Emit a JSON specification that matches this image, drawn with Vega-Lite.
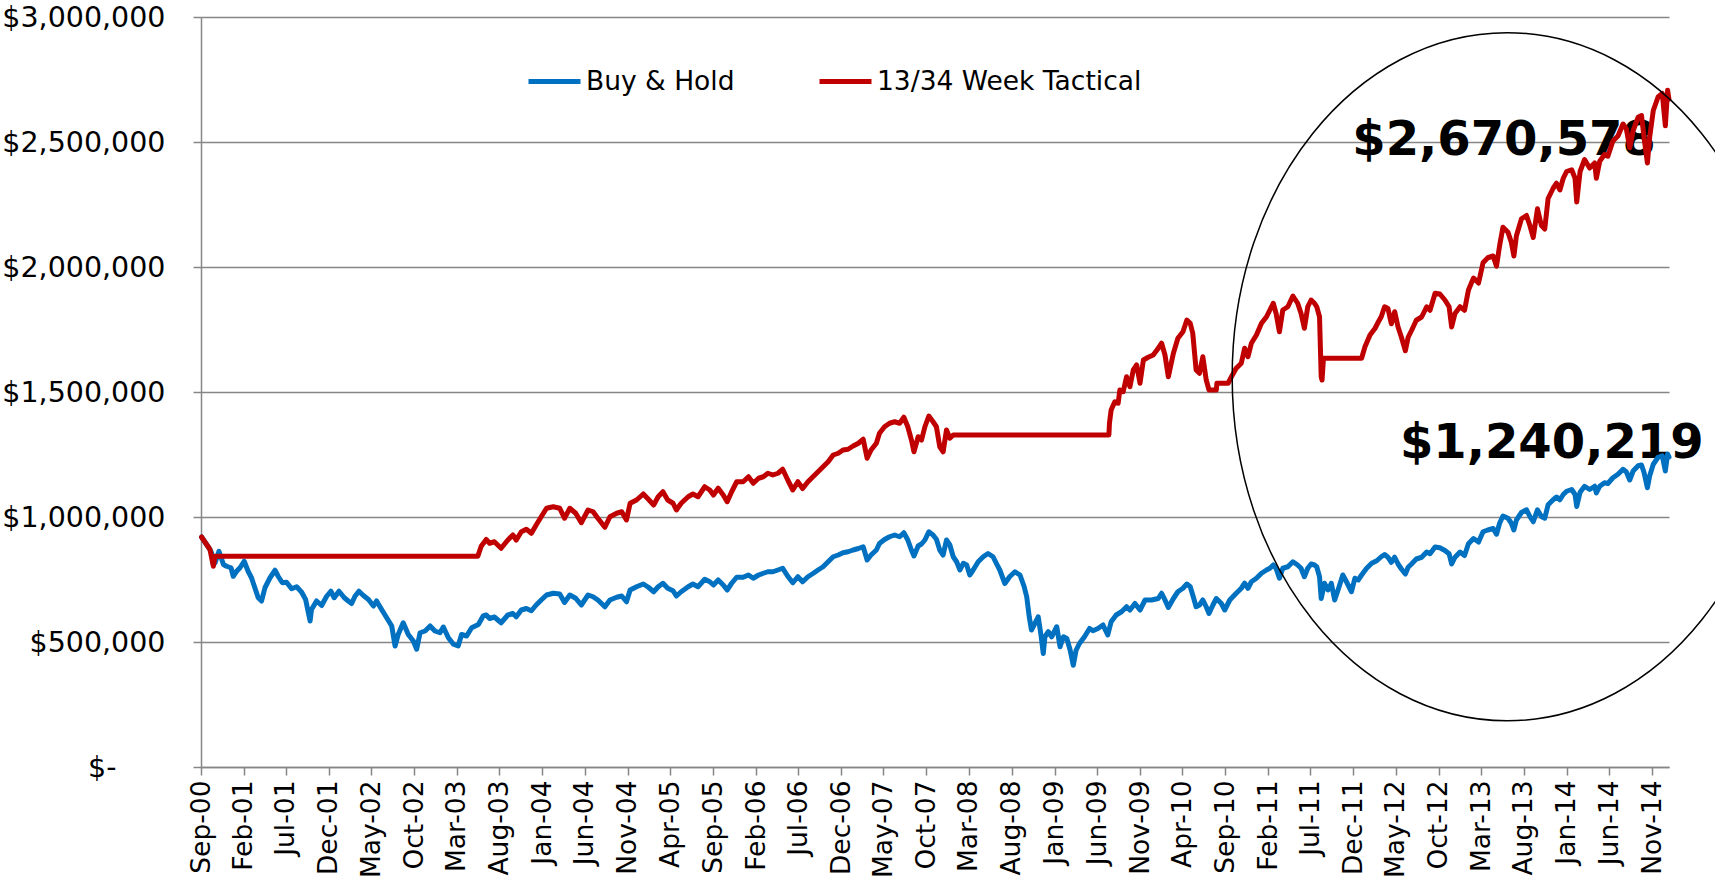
{
"$schema": "https://vega.github.io/schema/vega-lite/v6.json",
"width": 1468, "height": 750,
"autosize": {"type": "none"},
"padding": {"left": 201, "top": 17, "right": 46, "bottom": 119},
"background": "white",
"config": {"view": {"stroke": null}, "font": "DejaVu Sans"},
"datasets": {
"notes": [
{"date": "2013-05-22", "value": 2450000, "label": "$2,670,578"},
{"date": "2013-11-08", "value": 1235800, "label": "$1,240,219"}
],
"ring": [{"date": "2013-06-02", "value": 1561000}],
"series": [
{"date":"2000-09-03","series":"Buy & Hold","value":920000},
{"date":"2000-09-21","series":"Buy & Hold","value":890000},
{"date":"2000-10-03","series":"Buy & Hold","value":870000},
{"date":"2000-10-09","series":"Buy & Hold","value":856000},
{"date":"2000-10-15","series":"Buy & Hold","value":810000},
{"date":"2000-10-21","series":"Buy & Hold","value":816000},
{"date":"2000-11-04","series":"Buy & Hold","value":863000},
{"date":"2000-11-20","series":"Buy & Hold","value":810000},
{"date":"2000-12-01","series":"Buy & Hold","value":803000},
{"date":"2000-12-17","series":"Buy & Hold","value":797000},
{"date":"2000-12-25","series":"Buy & Hold","value":763000},
{"date":"2001-01-06","series":"Buy & Hold","value":783000},
{"date":"2001-01-18","series":"Buy & Hold","value":797000},
{"date":"2001-02-02","series":"Buy & Hold","value":823000},
{"date":"2001-02-16","series":"Buy & Hold","value":783000},
{"date":"2001-02-28","series":"Buy & Hold","value":757000},
{"date":"2001-03-12","series":"Buy & Hold","value":717000},
{"date":"2001-03-24","series":"Buy & Hold","value":677000},
{"date":"2001-04-05","series":"Buy & Hold","value":664000},
{"date":"2001-04-17","series":"Buy & Hold","value":717000},
{"date":"2001-05-05","series":"Buy & Hold","value":757000},
{"date":"2001-05-23","series":"Buy & Hold","value":787000},
{"date":"2001-06-03","series":"Buy & Hold","value":763000},
{"date":"2001-06-18","series":"Buy & Hold","value":737000},
{"date":"2001-07-03","series":"Buy & Hold","value":739000},
{"date":"2001-07-21","series":"Buy & Hold","value":713000},
{"date":"2001-08-08","series":"Buy & Hold","value":721000},
{"date":"2001-08-26","series":"Buy & Hold","value":699000},
{"date":"2001-09-09","series":"Buy & Hold","value":670000},
{"date":"2001-09-25","series":"Buy & Hold","value":584000},
{"date":"2001-09-30","series":"Buy & Hold","value":630000},
{"date":"2001-10-18","series":"Buy & Hold","value":664000},
{"date":"2001-11-05","series":"Buy & Hold","value":646000},
{"date":"2001-11-23","series":"Buy & Hold","value":683000},
{"date":"2001-12-08","series":"Buy & Hold","value":703000},
{"date":"2001-12-20","series":"Buy & Hold","value":677000},
{"date":"2002-01-06","series":"Buy & Hold","value":703000},
{"date":"2002-01-25","series":"Buy & Hold","value":677000},
{"date":"2002-02-08","series":"Buy & Hold","value":664000},
{"date":"2002-02-20","series":"Buy & Hold","value":654000},
{"date":"2002-03-04","series":"Buy & Hold","value":683000},
{"date":"2002-03-18","series":"Buy & Hold","value":703000},
{"date":"2002-04-03","series":"Buy & Hold","value":686000},
{"date":"2002-04-21","series":"Buy & Hold","value":670000},
{"date":"2002-05-09","series":"Buy & Hold","value":644000},
{"date":"2002-05-20","series":"Buy & Hold","value":664000},
{"date":"2002-06-07","series":"Buy & Hold","value":630000},
{"date":"2002-06-25","series":"Buy & Hold","value":597000},
{"date":"2002-07-13","series":"Buy & Hold","value":564000},
{"date":"2002-07-25","series":"Buy & Hold","value":484000},
{"date":"2002-08-05","series":"Buy & Hold","value":530000},
{"date":"2002-08-23","series":"Buy & Hold","value":577000},
{"date":"2002-09-10","series":"Buy & Hold","value":530000},
{"date":"2002-09-28","series":"Buy & Hold","value":504000},
{"date":"2002-10-10","series":"Buy & Hold","value":471000},
{"date":"2002-10-22","series":"Buy & Hold","value":537000},
{"date":"2002-11-09","series":"Buy & Hold","value":544000},
{"date":"2002-11-27","series":"Buy & Hold","value":564000},
{"date":"2002-12-14","series":"Buy & Hold","value":544000},
{"date":"2003-01-01","series":"Buy & Hold","value":537000},
{"date":"2003-01-13","series":"Buy & Hold","value":560000},
{"date":"2003-01-31","series":"Buy & Hold","value":517000},
{"date":"2003-02-18","series":"Buy & Hold","value":491000},
{"date":"2003-03-07","series":"Buy & Hold","value":484000},
{"date":"2003-03-19","series":"Buy & Hold","value":530000},
{"date":"2003-04-06","series":"Buy & Hold","value":524000},
{"date":"2003-04-24","series":"Buy & Hold","value":557000},
{"date":"2003-05-18","series":"Buy & Hold","value":570000},
{"date":"2003-06-04","series":"Buy & Hold","value":604000},
{"date":"2003-06-15","series":"Buy & Hold","value":608000},
{"date":"2003-06-27","series":"Buy & Hold","value":594000},
{"date":"2003-07-14","series":"Buy & Hold","value":600000},
{"date":"2003-08-07","series":"Buy & Hold","value":577000},
{"date":"2003-08-31","series":"Buy & Hold","value":608000},
{"date":"2003-09-18","series":"Buy & Hold","value":614000},
{"date":"2003-09-30","series":"Buy & Hold","value":601000},
{"date":"2003-10-18","series":"Buy & Hold","value":628000},
{"date":"2003-11-05","series":"Buy & Hold","value":634000},
{"date":"2003-11-23","series":"Buy & Hold","value":625000},
{"date":"2003-12-10","series":"Buy & Hold","value":648000},
{"date":"2003-12-28","series":"Buy & Hold","value":668000},
{"date":"2004-01-16","series":"Buy & Hold","value":688000},
{"date":"2004-02-09","series":"Buy & Hold","value":695000},
{"date":"2004-03-03","series":"Buy & Hold","value":692000},
{"date":"2004-03-20","series":"Buy & Hold","value":658000},
{"date":"2004-04-08","series":"Buy & Hold","value":688000},
{"date":"2004-04-29","series":"Buy & Hold","value":675000},
{"date":"2004-05-19","series":"Buy & Hold","value":648000},
{"date":"2004-06-12","series":"Buy & Hold","value":688000},
{"date":"2004-06-30","series":"Buy & Hold","value":681000},
{"date":"2004-07-17","series":"Buy & Hold","value":668000},
{"date":"2004-08-11","series":"Buy & Hold","value":641000},
{"date":"2004-08-29","series":"Buy & Hold","value":668000},
{"date":"2004-09-22","series":"Buy & Hold","value":679000},
{"date":"2004-10-10","series":"Buy & Hold","value":684000},
{"date":"2004-10-27","series":"Buy & Hold","value":661000},
{"date":"2004-11-09","series":"Buy & Hold","value":708000},
{"date":"2004-12-02","series":"Buy & Hold","value":721000},
{"date":"2004-12-26","series":"Buy & Hold","value":732000},
{"date":"2005-01-13","series":"Buy & Hold","value":719000},
{"date":"2005-02-01","series":"Buy & Hold","value":701000},
{"date":"2005-02-17","series":"Buy & Hold","value":721000},
{"date":"2005-03-06","series":"Buy & Hold","value":735000},
{"date":"2005-03-23","series":"Buy & Hold","value":715000},
{"date":"2005-04-11","series":"Buy & Hold","value":705000},
{"date":"2005-04-23","series":"Buy & Hold","value":684000},
{"date":"2005-05-10","series":"Buy & Hold","value":701000},
{"date":"2005-06-04","series":"Buy & Hold","value":721000},
{"date":"2005-06-21","series":"Buy & Hold","value":732000},
{"date":"2005-07-09","series":"Buy & Hold","value":721000},
{"date":"2005-08-02","series":"Buy & Hold","value":751000},
{"date":"2005-08-20","series":"Buy & Hold","value":741000},
{"date":"2005-09-02","series":"Buy & Hold","value":728000},
{"date":"2005-09-19","series":"Buy & Hold","value":748000},
{"date":"2005-10-07","series":"Buy & Hold","value":728000},
{"date":"2005-10-21","series":"Buy & Hold","value":708000},
{"date":"2005-11-06","series":"Buy & Hold","value":735000},
{"date":"2005-11-24","series":"Buy & Hold","value":759000},
{"date":"2005-12-17","series":"Buy & Hold","value":759000},
{"date":"2006-01-05","series":"Buy & Hold","value":768000},
{"date":"2006-01-22","series":"Buy & Hold","value":755000},
{"date":"2006-02-10","series":"Buy & Hold","value":768000},
{"date":"2006-02-27","series":"Buy & Hold","value":775000},
{"date":"2006-03-15","series":"Buy & Hold","value":781000},
{"date":"2006-04-02","series":"Buy & Hold","value":781000},
{"date":"2006-04-20","series":"Buy & Hold","value":788000},
{"date":"2006-05-07","series":"Buy & Hold","value":795000},
{"date":"2006-05-25","series":"Buy & Hold","value":763000},
{"date":"2006-06-12","series":"Buy & Hold","value":737000},
{"date":"2006-06-30","series":"Buy & Hold","value":761000},
{"date":"2006-07-17","series":"Buy & Hold","value":741000},
{"date":"2006-08-05","series":"Buy & Hold","value":761000},
{"date":"2006-08-23","series":"Buy & Hold","value":774000},
{"date":"2006-09-10","series":"Buy & Hold","value":788000},
{"date":"2006-09-28","series":"Buy & Hold","value":801000},
{"date":"2006-10-16","series":"Buy & Hold","value":821000},
{"date":"2006-11-03","series":"Buy & Hold","value":841000},
{"date":"2006-11-21","series":"Buy & Hold","value":848000},
{"date":"2006-12-08","series":"Buy & Hold","value":857000},
{"date":"2006-12-26","series":"Buy & Hold","value":861000},
{"date":"2007-01-13","series":"Buy & Hold","value":868000},
{"date":"2007-02-01","series":"Buy & Hold","value":874000},
{"date":"2007-02-18","series":"Buy & Hold","value":881000},
{"date":"2007-03-04","series":"Buy & Hold","value":828000},
{"date":"2007-03-18","series":"Buy & Hold","value":848000},
{"date":"2007-04-06","series":"Buy & Hold","value":868000},
{"date":"2007-04-17","series":"Buy & Hold","value":894000},
{"date":"2007-05-05","series":"Buy & Hold","value":910000},
{"date":"2007-05-23","series":"Buy & Hold","value":921000},
{"date":"2007-06-10","series":"Buy & Hold","value":928000},
{"date":"2007-06-28","series":"Buy & Hold","value":921000},
{"date":"2007-07-13","series":"Buy & Hold","value":937000},
{"date":"2007-07-27","series":"Buy & Hold","value":908000},
{"date":"2007-08-09","series":"Buy & Hold","value":868000},
{"date":"2007-08-18","series":"Buy & Hold","value":844000},
{"date":"2007-09-02","series":"Buy & Hold","value":884000},
{"date":"2007-09-14","series":"Buy & Hold","value":892000},
{"date":"2007-09-26","series":"Buy & Hold","value":908000},
{"date":"2007-10-10","series":"Buy & Hold","value":941000},
{"date":"2007-10-25","series":"Buy & Hold","value":928000},
{"date":"2007-11-06","series":"Buy & Hold","value":911000},
{"date":"2007-11-18","series":"Buy & Hold","value":868000},
{"date":"2007-11-30","series":"Buy & Hold","value":848000},
{"date":"2007-12-12","series":"Buy & Hold","value":908000},
{"date":"2007-12-24","series":"Buy & Hold","value":888000},
{"date":"2008-01-05","series":"Buy & Hold","value":841000},
{"date":"2008-01-17","series":"Buy & Hold","value":821000},
{"date":"2008-01-29","series":"Buy & Hold","value":788000},
{"date":"2008-02-10","series":"Buy & Hold","value":815000},
{"date":"2008-02-22","series":"Buy & Hold","value":808000},
{"date":"2008-03-04","series":"Buy & Hold","value":768000},
{"date":"2008-03-16","series":"Buy & Hold","value":788000},
{"date":"2008-04-03","series":"Buy & Hold","value":821000},
{"date":"2008-04-21","series":"Buy & Hold","value":841000},
{"date":"2008-05-08","series":"Buy & Hold","value":854000},
{"date":"2008-05-26","series":"Buy & Hold","value":841000},
{"date":"2008-06-07","series":"Buy & Hold","value":814000},
{"date":"2008-06-19","series":"Buy & Hold","value":788000},
{"date":"2008-07-07","series":"Buy & Hold","value":734000},
{"date":"2008-07-24","series":"Buy & Hold","value":761000},
{"date":"2008-08-12","series":"Buy & Hold","value":781000},
{"date":"2008-08-30","series":"Buy & Hold","value":768000},
{"date":"2008-09-14","series":"Buy & Hold","value":721000},
{"date":"2008-09-23","series":"Buy & Hold","value":681000},
{"date":"2008-10-02","series":"Buy & Hold","value":601000},
{"date":"2008-10-10","series":"Buy & Hold","value":548000},
{"date":"2008-10-22","series":"Buy & Hold","value":574000},
{"date":"2008-11-03","series":"Buy & Hold","value":601000},
{"date":"2008-11-13","series":"Buy & Hold","value":527000},
{"date":"2008-11-21","series":"Buy & Hold","value":454000},
{"date":"2008-11-27","series":"Buy & Hold","value":521000},
{"date":"2008-12-09","series":"Buy & Hold","value":541000},
{"date":"2008-12-21","series":"Buy & Hold","value":521000},
{"date":"2009-01-08","series":"Buy & Hold","value":561000},
{"date":"2009-01-20","series":"Buy & Hold","value":481000},
{"date":"2009-02-01","series":"Buy & Hold","value":521000},
{"date":"2009-02-13","series":"Buy & Hold","value":514000},
{"date":"2009-02-25","series":"Buy & Hold","value":467000},
{"date":"2009-03-08","series":"Buy & Hold","value":407000},
{"date":"2009-03-18","series":"Buy & Hold","value":467000},
{"date":"2009-03-30","series":"Buy & Hold","value":494000},
{"date":"2009-04-17","series":"Buy & Hold","value":521000},
{"date":"2009-05-05","series":"Buy & Hold","value":554000},
{"date":"2009-05-17","series":"Buy & Hold","value":545000},
{"date":"2009-06-04","series":"Buy & Hold","value":554000},
{"date":"2009-06-22","series":"Buy & Hold","value":568000},
{"date":"2009-07-09","series":"Buy & Hold","value":528000},
{"date":"2009-07-21","series":"Buy & Hold","value":581000},
{"date":"2009-08-08","series":"Buy & Hold","value":608000},
{"date":"2009-08-27","series":"Buy & Hold","value":621000},
{"date":"2009-09-14","series":"Buy & Hold","value":641000},
{"date":"2009-09-26","series":"Buy & Hold","value":628000},
{"date":"2009-10-14","series":"Buy & Hold","value":654000},
{"date":"2009-11-01","series":"Buy & Hold","value":628000},
{"date":"2009-11-19","series":"Buy & Hold","value":668000},
{"date":"2009-12-12","series":"Buy & Hold","value":668000},
{"date":"2010-01-05","series":"Buy & Hold","value":674000},
{"date":"2010-01-17","series":"Buy & Hold","value":695000},
{"date":"2010-01-29","series":"Buy & Hold","value":668000},
{"date":"2010-02-10","series":"Buy & Hold","value":638000},
{"date":"2010-02-28","series":"Buy & Hold","value":674000},
{"date":"2010-03-16","series":"Buy & Hold","value":701000},
{"date":"2010-04-03","series":"Buy & Hold","value":715000},
{"date":"2010-04-17","series":"Buy & Hold","value":732000},
{"date":"2010-04-29","series":"Buy & Hold","value":721000},
{"date":"2010-05-08","series":"Buy & Hold","value":688000},
{"date":"2010-05-20","series":"Buy & Hold","value":641000},
{"date":"2010-06-01","series":"Buy & Hold","value":648000},
{"date":"2010-06-13","series":"Buy & Hold","value":668000},
{"date":"2010-06-25","series":"Buy & Hold","value":641000},
{"date":"2010-07-05","series":"Buy & Hold","value":614000},
{"date":"2010-07-19","series":"Buy & Hold","value":648000},
{"date":"2010-07-31","series":"Buy & Hold","value":674000},
{"date":"2010-08-18","series":"Buy & Hold","value":654000},
{"date":"2010-08-30","series":"Buy & Hold","value":628000},
{"date":"2010-09-17","series":"Buy & Hold","value":668000},
{"date":"2010-10-10","series":"Buy & Hold","value":695000},
{"date":"2010-10-28","series":"Buy & Hold","value":715000},
{"date":"2010-11-09","series":"Buy & Hold","value":735000},
{"date":"2010-11-21","series":"Buy & Hold","value":715000},
{"date":"2010-12-03","series":"Buy & Hold","value":741000},
{"date":"2010-12-21","series":"Buy & Hold","value":755000},
{"date":"2011-01-08","series":"Buy & Hold","value":775000},
{"date":"2011-01-26","series":"Buy & Hold","value":788000},
{"date":"2011-02-07","series":"Buy & Hold","value":795000},
{"date":"2011-02-19","series":"Buy & Hold","value":808000},
{"date":"2011-03-01","series":"Buy & Hold","value":795000},
{"date":"2011-03-13","series":"Buy & Hold","value":755000},
{"date":"2011-03-25","series":"Buy & Hold","value":795000},
{"date":"2011-04-12","series":"Buy & Hold","value":801000},
{"date":"2011-04-30","series":"Buy & Hold","value":821000},
{"date":"2011-05-17","series":"Buy & Hold","value":808000},
{"date":"2011-05-29","series":"Buy & Hold","value":795000},
{"date":"2011-06-10","series":"Buy & Hold","value":761000},
{"date":"2011-06-22","series":"Buy & Hold","value":795000},
{"date":"2011-07-04","series":"Buy & Hold","value":812000},
{"date":"2011-07-16","series":"Buy & Hold","value":808000},
{"date":"2011-07-24","series":"Buy & Hold","value":801000},
{"date":"2011-08-03","series":"Buy & Hold","value":761000},
{"date":"2011-08-09","series":"Buy & Hold","value":674000},
{"date":"2011-08-21","series":"Buy & Hold","value":735000},
{"date":"2011-09-02","series":"Buy & Hold","value":708000},
{"date":"2011-09-14","series":"Buy & Hold","value":735000},
{"date":"2011-09-26","series":"Buy & Hold","value":668000},
{"date":"2011-10-08","series":"Buy & Hold","value":708000},
{"date":"2011-10-25","series":"Buy & Hold","value":768000},
{"date":"2011-11-07","series":"Buy & Hold","value":741000},
{"date":"2011-11-25","series":"Buy & Hold","value":701000},
{"date":"2011-12-07","series":"Buy & Hold","value":755000},
{"date":"2011-12-19","series":"Buy & Hold","value":748000},
{"date":"2011-12-31","series":"Buy & Hold","value":768000},
{"date":"2012-01-18","series":"Buy & Hold","value":795000},
{"date":"2012-02-05","series":"Buy & Hold","value":815000},
{"date":"2012-02-23","series":"Buy & Hold","value":825000},
{"date":"2012-03-10","series":"Buy & Hold","value":841000},
{"date":"2012-03-22","series":"Buy & Hold","value":850000},
{"date":"2012-04-03","series":"Buy & Hold","value":839000},
{"date":"2012-04-15","series":"Buy & Hold","value":819000},
{"date":"2012-04-27","series":"Buy & Hold","value":839000},
{"date":"2012-05-09","series":"Buy & Hold","value":812000},
{"date":"2012-05-21","series":"Buy & Hold","value":792000},
{"date":"2012-06-04","series":"Buy & Hold","value":772000},
{"date":"2012-06-14","series":"Buy & Hold","value":799000},
{"date":"2012-06-26","series":"Buy & Hold","value":812000},
{"date":"2012-07-13","series":"Buy & Hold","value":832000},
{"date":"2012-08-01","series":"Buy & Hold","value":839000},
{"date":"2012-08-19","series":"Buy & Hold","value":860000},
{"date":"2012-08-31","series":"Buy & Hold","value":853000},
{"date":"2012-09-18","series":"Buy & Hold","value":880000},
{"date":"2012-10-05","series":"Buy & Hold","value":877000},
{"date":"2012-10-23","series":"Buy & Hold","value":866000},
{"date":"2012-11-07","series":"Buy & Hold","value":853000},
{"date":"2012-11-16","series":"Buy & Hold","value":812000},
{"date":"2012-11-28","series":"Buy & Hold","value":839000},
{"date":"2012-12-16","series":"Buy & Hold","value":860000},
{"date":"2013-01-01","series":"Buy & Hold","value":846000},
{"date":"2013-01-15","series":"Buy & Hold","value":893000},
{"date":"2013-02-02","series":"Buy & Hold","value":914000},
{"date":"2013-02-20","series":"Buy & Hold","value":900000},
{"date":"2013-03-08","series":"Buy & Hold","value":941000},
{"date":"2013-03-25","series":"Buy & Hold","value":948000},
{"date":"2013-04-13","series":"Buy & Hold","value":954000},
{"date":"2013-04-25","series":"Buy & Hold","value":931000},
{"date":"2013-05-06","series":"Buy & Hold","value":975000},
{"date":"2013-05-18","series":"Buy & Hold","value":1004000},
{"date":"2013-06-05","series":"Buy & Hold","value":995000},
{"date":"2013-06-17","series":"Buy & Hold","value":975000},
{"date":"2013-06-26","series":"Buy & Hold","value":948000},
{"date":"2013-07-05","series":"Buy & Hold","value":988000},
{"date":"2013-07-23","series":"Buy & Hold","value":1018000},
{"date":"2013-08-10","series":"Buy & Hold","value":1029000},
{"date":"2013-08-22","series":"Buy & Hold","value":1002000},
{"date":"2013-09-03","series":"Buy & Hold","value":981000},
{"date":"2013-09-18","series":"Buy & Hold","value":1029000},
{"date":"2013-10-02","series":"Buy & Hold","value":1002000},
{"date":"2013-10-14","series":"Buy & Hold","value":995000},
{"date":"2013-10-26","series":"Buy & Hold","value":1049000},
{"date":"2013-11-13","series":"Buy & Hold","value":1069000},
{"date":"2013-11-25","series":"Buy & Hold","value":1080000},
{"date":"2013-12-07","series":"Buy & Hold","value":1069000},
{"date":"2013-12-19","series":"Buy & Hold","value":1090000},
{"date":"2013-12-31","series":"Buy & Hold","value":1103000},
{"date":"2014-01-18","series":"Buy & Hold","value":1110000},
{"date":"2014-01-30","series":"Buy & Hold","value":1090000},
{"date":"2014-02-05","series":"Buy & Hold","value":1042000},
{"date":"2014-02-17","series":"Buy & Hold","value":1099000},
{"date":"2014-03-05","series":"Buy & Hold","value":1123000},
{"date":"2014-03-23","series":"Buy & Hold","value":1110000},
{"date":"2014-04-10","series":"Buy & Hold","value":1123000},
{"date":"2014-04-16","series":"Buy & Hold","value":1096000},
{"date":"2014-04-28","series":"Buy & Hold","value":1123000},
{"date":"2014-05-15","series":"Buy & Hold","value":1137000},
{"date":"2014-05-27","series":"Buy & Hold","value":1134000},
{"date":"2014-06-14","series":"Buy & Hold","value":1157000},
{"date":"2014-07-02","series":"Buy & Hold","value":1171000},
{"date":"2014-07-20","series":"Buy & Hold","value":1191000},
{"date":"2014-08-01","series":"Buy & Hold","value":1180000},
{"date":"2014-08-13","series":"Buy & Hold","value":1148000},
{"date":"2014-08-25","series":"Buy & Hold","value":1184000},
{"date":"2014-09-12","series":"Buy & Hold","value":1205000},
{"date":"2014-09-24","series":"Buy & Hold","value":1208000},
{"date":"2014-10-03","series":"Buy & Hold","value":1178000},
{"date":"2014-10-15","series":"Buy & Hold","value":1117000},
{"date":"2014-10-23","series":"Buy & Hold","value":1164000},
{"date":"2014-11-05","series":"Buy & Hold","value":1211000},
{"date":"2014-11-22","series":"Buy & Hold","value":1239000},
{"date":"2014-12-07","series":"Buy & Hold","value":1245000},
{"date":"2014-12-18","series":"Buy & Hold","value":1184000},
{"date":"2014-12-26","series":"Buy & Hold","value":1252000},
{"date":"2014-12-31","series":"Buy & Hold","value":1240219},
{"date":"2000-09-03","series":"13/34 Week Tactical","value":920000},
{"date":"2000-09-21","series":"13/34 Week Tactical","value":890000},
{"date":"2000-10-03","series":"13/34 Week Tactical","value":870000},
{"date":"2000-10-15","series":"13/34 Week Tactical","value":803000},
{"date":"2000-10-21","series":"13/34 Week Tactical","value":843000},
{"date":"2003-05-16","series":"13/34 Week Tactical","value":843000},
{"date":"2003-05-28","series":"13/34 Week Tactical","value":883000},
{"date":"2003-06-15","series":"13/34 Week Tactical","value":910000},
{"date":"2003-06-27","series":"13/34 Week Tactical","value":895000},
{"date":"2003-07-14","series":"13/34 Week Tactical","value":901000},
{"date":"2003-08-07","series":"13/34 Week Tactical","value":875000},
{"date":"2003-08-31","series":"13/34 Week Tactical","value":908000},
{"date":"2003-09-18","series":"13/34 Week Tactical","value":928000},
{"date":"2003-09-30","series":"13/34 Week Tactical","value":908000},
{"date":"2003-10-18","series":"13/34 Week Tactical","value":941000},
{"date":"2003-11-05","series":"13/34 Week Tactical","value":951000},
{"date":"2003-11-23","series":"13/34 Week Tactical","value":935000},
{"date":"2003-12-10","series":"13/34 Week Tactical","value":968000},
{"date":"2003-12-28","series":"13/34 Week Tactical","value":1001000},
{"date":"2004-01-16","series":"13/34 Week Tactical","value":1035000},
{"date":"2004-02-09","series":"13/34 Week Tactical","value":1041000},
{"date":"2004-03-03","series":"13/34 Week Tactical","value":1035000},
{"date":"2004-03-20","series":"13/34 Week Tactical","value":995000},
{"date":"2004-04-08","series":"13/34 Week Tactical","value":1035000},
{"date":"2004-04-29","series":"13/34 Week Tactical","value":1015000},
{"date":"2004-05-19","series":"13/34 Week Tactical","value":977000},
{"date":"2004-06-12","series":"13/34 Week Tactical","value":1028000},
{"date":"2004-06-30","series":"13/34 Week Tactical","value":1021000},
{"date":"2004-07-17","series":"13/34 Week Tactical","value":995000},
{"date":"2004-08-11","series":"13/34 Week Tactical","value":959000},
{"date":"2004-08-29","series":"13/34 Week Tactical","value":1001000},
{"date":"2004-09-22","series":"13/34 Week Tactical","value":1015000},
{"date":"2004-10-10","series":"13/34 Week Tactical","value":1021000},
{"date":"2004-10-27","series":"13/34 Week Tactical","value":988000},
{"date":"2004-11-09","series":"13/34 Week Tactical","value":1055000},
{"date":"2004-12-02","series":"13/34 Week Tactical","value":1068000},
{"date":"2004-12-26","series":"13/34 Week Tactical","value":1092000},
{"date":"2005-01-13","series":"13/34 Week Tactical","value":1071000},
{"date":"2005-02-01","series":"13/34 Week Tactical","value":1048000},
{"date":"2005-02-17","series":"13/34 Week Tactical","value":1081000},
{"date":"2005-03-06","series":"13/34 Week Tactical","value":1101000},
{"date":"2005-03-23","series":"13/34 Week Tactical","value":1068000},
{"date":"2005-04-11","series":"13/34 Week Tactical","value":1055000},
{"date":"2005-04-23","series":"13/34 Week Tactical","value":1028000},
{"date":"2005-05-10","series":"13/34 Week Tactical","value":1055000},
{"date":"2005-06-04","series":"13/34 Week Tactical","value":1081000},
{"date":"2005-06-21","series":"13/34 Week Tactical","value":1092000},
{"date":"2005-07-09","series":"13/34 Week Tactical","value":1081000},
{"date":"2005-08-02","series":"13/34 Week Tactical","value":1121000},
{"date":"2005-08-20","series":"13/34 Week Tactical","value":1108000},
{"date":"2005-09-02","series":"13/34 Week Tactical","value":1088000},
{"date":"2005-09-19","series":"13/34 Week Tactical","value":1115000},
{"date":"2005-10-07","series":"13/34 Week Tactical","value":1088000},
{"date":"2005-10-21","series":"13/34 Week Tactical","value":1061000},
{"date":"2005-11-06","series":"13/34 Week Tactical","value":1101000},
{"date":"2005-11-24","series":"13/34 Week Tactical","value":1141000},
{"date":"2005-12-17","series":"13/34 Week Tactical","value":1141000},
{"date":"2006-01-05","series":"13/34 Week Tactical","value":1161000},
{"date":"2006-01-22","series":"13/34 Week Tactical","value":1135000},
{"date":"2006-02-10","series":"13/34 Week Tactical","value":1155000},
{"date":"2006-02-27","series":"13/34 Week Tactical","value":1161000},
{"date":"2006-03-15","series":"13/34 Week Tactical","value":1175000},
{"date":"2006-04-02","series":"13/34 Week Tactical","value":1168000},
{"date":"2006-04-20","series":"13/34 Week Tactical","value":1175000},
{"date":"2006-05-07","series":"13/34 Week Tactical","value":1191000},
{"date":"2006-05-25","series":"13/34 Week Tactical","value":1148000},
{"date":"2006-06-12","series":"13/34 Week Tactical","value":1108000},
{"date":"2006-06-30","series":"13/34 Week Tactical","value":1141000},
{"date":"2006-07-17","series":"13/34 Week Tactical","value":1114000},
{"date":"2006-08-05","series":"13/34 Week Tactical","value":1141000},
{"date":"2006-08-23","series":"13/34 Week Tactical","value":1161000},
{"date":"2006-09-10","series":"13/34 Week Tactical","value":1181000},
{"date":"2006-09-28","series":"13/34 Week Tactical","value":1201000},
{"date":"2006-10-16","series":"13/34 Week Tactical","value":1221000},
{"date":"2006-11-03","series":"13/34 Week Tactical","value":1248000},
{"date":"2006-11-21","series":"13/34 Week Tactical","value":1255000},
{"date":"2006-12-08","series":"13/34 Week Tactical","value":1268000},
{"date":"2006-12-26","series":"13/34 Week Tactical","value":1271000},
{"date":"2007-01-13","series":"13/34 Week Tactical","value":1284000},
{"date":"2007-02-01","series":"13/34 Week Tactical","value":1295000},
{"date":"2007-02-18","series":"13/34 Week Tactical","value":1311000},
{"date":"2007-03-04","series":"13/34 Week Tactical","value":1235000},
{"date":"2007-03-18","series":"13/34 Week Tactical","value":1268000},
{"date":"2007-04-06","series":"13/34 Week Tactical","value":1295000},
{"date":"2007-04-17","series":"13/34 Week Tactical","value":1335000},
{"date":"2007-05-05","series":"13/34 Week Tactical","value":1361000},
{"date":"2007-05-23","series":"13/34 Week Tactical","value":1375000},
{"date":"2007-06-10","series":"13/34 Week Tactical","value":1381000},
{"date":"2007-06-28","series":"13/34 Week Tactical","value":1375000},
{"date":"2007-07-13","series":"13/34 Week Tactical","value":1399000},
{"date":"2007-07-27","series":"13/34 Week Tactical","value":1361000},
{"date":"2007-08-09","series":"13/34 Week Tactical","value":1308000},
{"date":"2007-08-18","series":"13/34 Week Tactical","value":1261000},
{"date":"2007-09-02","series":"13/34 Week Tactical","value":1321000},
{"date":"2007-09-14","series":"13/34 Week Tactical","value":1308000},
{"date":"2007-09-26","series":"13/34 Week Tactical","value":1361000},
{"date":"2007-10-10","series":"13/34 Week Tactical","value":1404000},
{"date":"2007-10-25","series":"13/34 Week Tactical","value":1381000},
{"date":"2007-11-06","series":"13/34 Week Tactical","value":1361000},
{"date":"2007-11-18","series":"13/34 Week Tactical","value":1281000},
{"date":"2007-11-30","series":"13/34 Week Tactical","value":1261000},
{"date":"2007-12-12","series":"13/34 Week Tactical","value":1348000},
{"date":"2007-12-24","series":"13/34 Week Tactical","value":1315000},
{"date":"2008-01-05","series":"13/34 Week Tactical","value":1328000},
{"date":"2009-07-13","series":"13/34 Week Tactical","value":1328000},
{"date":"2009-07-15","series":"13/34 Week Tactical","value":1375000},
{"date":"2009-07-21","series":"13/34 Week Tactical","value":1428000},
{"date":"2009-08-03","series":"13/34 Week Tactical","value":1461000},
{"date":"2009-08-15","series":"13/34 Week Tactical","value":1455000},
{"date":"2009-08-21","series":"13/34 Week Tactical","value":1508000},
{"date":"2009-09-02","series":"13/34 Week Tactical","value":1501000},
{"date":"2009-09-14","series":"13/34 Week Tactical","value":1561000},
{"date":"2009-09-26","series":"13/34 Week Tactical","value":1521000},
{"date":"2009-10-08","series":"13/34 Week Tactical","value":1588000},
{"date":"2009-10-20","series":"13/34 Week Tactical","value":1608000},
{"date":"2009-11-01","series":"13/34 Week Tactical","value":1535000},
{"date":"2009-11-13","series":"13/34 Week Tactical","value":1628000},
{"date":"2009-11-30","series":"13/34 Week Tactical","value":1639000},
{"date":"2009-12-18","series":"13/34 Week Tactical","value":1648000},
{"date":"2010-01-05","series":"13/34 Week Tactical","value":1675000},
{"date":"2010-01-17","series":"13/34 Week Tactical","value":1695000},
{"date":"2010-01-29","series":"13/34 Week Tactical","value":1648000},
{"date":"2010-02-10","series":"13/34 Week Tactical","value":1561000},
{"date":"2010-02-28","series":"13/34 Week Tactical","value":1655000},
{"date":"2010-03-16","series":"13/34 Week Tactical","value":1715000},
{"date":"2010-04-03","series":"13/34 Week Tactical","value":1741000},
{"date":"2010-04-17","series":"13/34 Week Tactical","value":1788000},
{"date":"2010-04-29","series":"13/34 Week Tactical","value":1775000},
{"date":"2010-05-08","series":"13/34 Week Tactical","value":1735000},
{"date":"2010-05-20","series":"13/34 Week Tactical","value":1588000},
{"date":"2010-06-01","series":"13/34 Week Tactical","value":1575000},
{"date":"2010-06-13","series":"13/34 Week Tactical","value":1641000},
{"date":"2010-06-25","series":"13/34 Week Tactical","value":1548000},
{"date":"2010-07-05","series":"13/34 Week Tactical","value":1508000},
{"date":"2010-07-31","series":"13/34 Week Tactical","value":1508000},
{"date":"2010-08-02","series":"13/34 Week Tactical","value":1535000},
{"date":"2010-09-11","series":"13/34 Week Tactical","value":1535000},
{"date":"2010-09-23","series":"13/34 Week Tactical","value":1561000},
{"date":"2010-10-10","series":"13/34 Week Tactical","value":1595000},
{"date":"2010-10-28","series":"13/34 Week Tactical","value":1615000},
{"date":"2010-11-09","series":"13/34 Week Tactical","value":1675000},
{"date":"2010-11-21","series":"13/34 Week Tactical","value":1641000},
{"date":"2010-12-03","series":"13/34 Week Tactical","value":1695000},
{"date":"2010-12-21","series":"13/34 Week Tactical","value":1728000},
{"date":"2011-01-08","series":"13/34 Week Tactical","value":1775000},
{"date":"2011-01-26","series":"13/34 Week Tactical","value":1801000},
{"date":"2011-02-07","series":"13/34 Week Tactical","value":1828000},
{"date":"2011-02-19","series":"13/34 Week Tactical","value":1855000},
{"date":"2011-03-01","series":"13/34 Week Tactical","value":1815000},
{"date":"2011-03-13","series":"13/34 Week Tactical","value":1741000},
{"date":"2011-03-25","series":"13/34 Week Tactical","value":1828000},
{"date":"2011-04-12","series":"13/34 Week Tactical","value":1841000},
{"date":"2011-04-30","series":"13/34 Week Tactical","value":1884000},
{"date":"2011-05-17","series":"13/34 Week Tactical","value":1855000},
{"date":"2011-05-29","series":"13/34 Week Tactical","value":1815000},
{"date":"2011-06-10","series":"13/34 Week Tactical","value":1755000},
{"date":"2011-06-22","series":"13/34 Week Tactical","value":1841000},
{"date":"2011-07-04","series":"13/34 Week Tactical","value":1868000},
{"date":"2011-07-16","series":"13/34 Week Tactical","value":1855000},
{"date":"2011-07-24","series":"13/34 Week Tactical","value":1841000},
{"date":"2011-08-03","series":"13/34 Week Tactical","value":1801000},
{"date":"2011-08-09","series":"13/34 Week Tactical","value":1561000},
{"date":"2011-08-12","series":"13/34 Week Tactical","value":1548000},
{"date":"2011-08-17","series":"13/34 Week Tactical","value":1635000},
{"date":"2011-12-31","series":"13/34 Week Tactical","value":1635000},
{"date":"2012-01-12","series":"13/34 Week Tactical","value":1681000},
{"date":"2012-01-30","series":"13/34 Week Tactical","value":1728000},
{"date":"2012-02-17","series":"13/34 Week Tactical","value":1755000},
{"date":"2012-02-29","series":"13/34 Week Tactical","value":1781000},
{"date":"2012-03-10","series":"13/34 Week Tactical","value":1801000},
{"date":"2012-03-22","series":"13/34 Week Tactical","value":1841000},
{"date":"2012-04-03","series":"13/34 Week Tactical","value":1834000},
{"date":"2012-04-15","series":"13/34 Week Tactical","value":1773000},
{"date":"2012-04-27","series":"13/34 Week Tactical","value":1821000},
{"date":"2012-05-09","series":"13/34 Week Tactical","value":1760000},
{"date":"2012-05-21","series":"13/34 Week Tactical","value":1719000},
{"date":"2012-06-04","series":"13/34 Week Tactical","value":1665000},
{"date":"2012-06-14","series":"13/34 Week Tactical","value":1719000},
{"date":"2012-06-26","series":"13/34 Week Tactical","value":1746000},
{"date":"2012-07-13","series":"13/34 Week Tactical","value":1787000},
{"date":"2012-08-01","series":"13/34 Week Tactical","value":1800000},
{"date":"2012-08-19","series":"13/34 Week Tactical","value":1841000},
{"date":"2012-08-31","series":"13/34 Week Tactical","value":1827000},
{"date":"2012-09-18","series":"13/34 Week Tactical","value":1895000},
{"date":"2012-10-05","series":"13/34 Week Tactical","value":1892000},
{"date":"2012-10-23","series":"13/34 Week Tactical","value":1868000},
{"date":"2012-11-07","series":"13/34 Week Tactical","value":1841000},
{"date":"2012-11-16","series":"13/34 Week Tactical","value":1760000},
{"date":"2012-11-28","series":"13/34 Week Tactical","value":1814000},
{"date":"2012-12-16","series":"13/34 Week Tactical","value":1841000},
{"date":"2013-01-01","series":"13/34 Week Tactical","value":1827000},
{"date":"2013-01-15","series":"13/34 Week Tactical","value":1908000},
{"date":"2013-02-02","series":"13/34 Week Tactical","value":1956000},
{"date":"2013-02-20","series":"13/34 Week Tactical","value":1936000},
{"date":"2013-03-08","series":"13/34 Week Tactical","value":2017000},
{"date":"2013-03-25","series":"13/34 Week Tactical","value":2037000},
{"date":"2013-04-13","series":"13/34 Week Tactical","value":2044000},
{"date":"2013-04-25","series":"13/34 Week Tactical","value":2003000},
{"date":"2013-05-06","series":"13/34 Week Tactical","value":2085000},
{"date":"2013-05-18","series":"13/34 Week Tactical","value":2159000},
{"date":"2013-06-05","series":"13/34 Week Tactical","value":2139000},
{"date":"2013-06-17","series":"13/34 Week Tactical","value":2098000},
{"date":"2013-06-26","series":"13/34 Week Tactical","value":2044000},
{"date":"2013-07-05","series":"13/34 Week Tactical","value":2125000},
{"date":"2013-07-23","series":"13/34 Week Tactical","value":2193000},
{"date":"2013-08-10","series":"13/34 Week Tactical","value":2206000},
{"date":"2013-08-22","series":"13/34 Week Tactical","value":2166000},
{"date":"2013-09-03","series":"13/34 Week Tactical","value":2118000},
{"date":"2013-09-18","series":"13/34 Week Tactical","value":2233000},
{"date":"2013-10-02","series":"13/34 Week Tactical","value":2166000},
{"date":"2013-10-14","series":"13/34 Week Tactical","value":2152000},
{"date":"2013-10-26","series":"13/34 Week Tactical","value":2274000},
{"date":"2013-11-13","series":"13/34 Week Tactical","value":2315000},
{"date":"2013-11-25","series":"13/34 Week Tactical","value":2335000},
{"date":"2013-12-07","series":"13/34 Week Tactical","value":2308000},
{"date":"2013-12-19","series":"13/34 Week Tactical","value":2355000},
{"date":"2013-12-31","series":"13/34 Week Tactical","value":2382000},
{"date":"2014-01-18","series":"13/34 Week Tactical","value":2389000},
{"date":"2014-01-30","series":"13/34 Week Tactical","value":2355000},
{"date":"2014-02-05","series":"13/34 Week Tactical","value":2260000},
{"date":"2014-02-17","series":"13/34 Week Tactical","value":2382000},
{"date":"2014-03-05","series":"13/34 Week Tactical","value":2430000},
{"date":"2014-03-23","series":"13/34 Week Tactical","value":2396000},
{"date":"2014-04-10","series":"13/34 Week Tactical","value":2416000},
{"date":"2014-04-16","series":"13/34 Week Tactical","value":2355000},
{"date":"2014-04-28","series":"13/34 Week Tactical","value":2423000},
{"date":"2014-05-15","series":"13/34 Week Tactical","value":2450000},
{"date":"2014-05-27","series":"13/34 Week Tactical","value":2443000},
{"date":"2014-06-14","series":"13/34 Week Tactical","value":2504000},
{"date":"2014-07-02","series":"13/34 Week Tactical","value":2524000},
{"date":"2014-07-20","series":"13/34 Week Tactical","value":2572000},
{"date":"2014-08-01","series":"13/34 Week Tactical","value":2552000},
{"date":"2014-08-13","series":"13/34 Week Tactical","value":2477000},
{"date":"2014-08-25","series":"13/34 Week Tactical","value":2545000},
{"date":"2014-09-12","series":"13/34 Week Tactical","value":2599000},
{"date":"2014-09-24","series":"13/34 Week Tactical","value":2606000},
{"date":"2014-10-03","series":"13/34 Week Tactical","value":2518000},
{"date":"2014-10-15","series":"13/34 Week Tactical","value":2416000},
{"date":"2014-10-23","series":"13/34 Week Tactical","value":2518000},
{"date":"2014-11-05","series":"13/34 Week Tactical","value":2626000},
{"date":"2014-11-22","series":"13/34 Week Tactical","value":2680000},
{"date":"2014-12-07","series":"13/34 Week Tactical","value":2694000},
{"date":"2014-12-18","series":"13/34 Week Tactical","value":2565000},
{"date":"2014-12-26","series":"13/34 Week Tactical","value":2707000},
{"date":"2014-12-31","series":"13/34 Week Tactical","value":2670578}
]
},
"encoding": {
"x": {"field": "date", "type": "temporal", "title": null,
 "scale": {"type": "utc", "domain": [{"year": 2000, "month": 9, "date": 1, "utc": true}, {"year": 2014, "month": 12, "date": 31, "utc": true}]},
 "axis": {"format": "%b-%y", "labelAngle": -90, "grid": false, "tickSize": 8, "tickColor": "#868686", "tickWidth": 1.5,
  "domainColor": "#868686", "domainWidth": 1.5, "labelFontSize": 26.5, "labelFont": "DejaVu Sans", "labelColor": "black", "labelPadding": 5, "labelOverlap": false, "labelFlush": false,
  "values": [
   {"year":2000,"month":9,"date":1,"utc":true},{"year":2001,"month":2,"date":1,"utc":true},{"year":2001,"month":7,"date":1,"utc":true},{"year":2001,"month":12,"date":1,"utc":true},
   {"year":2002,"month":5,"date":1,"utc":true},{"year":2002,"month":10,"date":1,"utc":true},{"year":2003,"month":3,"date":1,"utc":true},{"year":2003,"month":8,"date":1,"utc":true},
   {"year":2004,"month":1,"date":1,"utc":true},{"year":2004,"month":6,"date":1,"utc":true},{"year":2004,"month":11,"date":1,"utc":true},{"year":2005,"month":4,"date":1,"utc":true},
   {"year":2005,"month":9,"date":1,"utc":true},{"year":2006,"month":2,"date":1,"utc":true},{"year":2006,"month":7,"date":1,"utc":true},{"year":2006,"month":12,"date":1,"utc":true},
   {"year":2007,"month":5,"date":1,"utc":true},{"year":2007,"month":10,"date":1,"utc":true},{"year":2008,"month":3,"date":1,"utc":true},{"year":2008,"month":8,"date":1,"utc":true},
   {"year":2009,"month":1,"date":1,"utc":true},{"year":2009,"month":6,"date":1,"utc":true},{"year":2009,"month":11,"date":1,"utc":true},{"year":2010,"month":4,"date":1,"utc":true},
   {"year":2010,"month":9,"date":1,"utc":true},{"year":2011,"month":2,"date":1,"utc":true},{"year":2011,"month":7,"date":1,"utc":true},{"year":2011,"month":12,"date":1,"utc":true},
   {"year":2012,"month":5,"date":1,"utc":true},{"year":2012,"month":10,"date":1,"utc":true},{"year":2013,"month":3,"date":1,"utc":true},{"year":2013,"month":8,"date":1,"utc":true},
   {"year":2014,"month":1,"date":1,"utc":true},{"year":2014,"month":6,"date":1,"utc":true},{"year":2014,"month":11,"date":1,"utc":true}
  ]}},
"y": {"field": "value", "type": "quantitative", "title": null,
 "scale": {"domain": [0, 3000000], "nice": false, "zero": true},
 "axis": {"values": [0, 500000, 1000000, 1500000, 2000000, 2500000, 3000000], "grid": true, "gridColor": "#868686", "gridWidth": 1.5,
  "domainColor": "#868686", "domainWidth": 1.5, "tickColor": "#868686", "tickWidth": 1.5, "tickSize": 8,
  "labelFontSize": 28.5, "labelFont": "DejaVu Sans", "labelColor": "black",
  "labelPadding": {"condition": {"test": "datum.value === 0", "value": 77}, "value": 28},
  "labelExpr": "datum.value == 0 ? '$-' : '$' + format(datum.value, ',')"}}
},
"layer": [
{"data": {"name": "notes"},
 "mark": {"type": "text", "font": "DejaVu Sans", "fontSize": 48, "fontWeight": "bold", "align": "center", "baseline": "alphabetic", "color": "black"},
 "encoding": {"text": {"field": "label"}}},
{"data": {"name": "series"},
 "transform": [{"filter": "datum.series == 'Buy & Hold'"}],
 "mark": {"type": "line", "strokeWidth": 5, "strokeJoin": "round", "strokeCap": "round"},
 "encoding": {"color": {"field": "series", "type": "nominal",
   "scale": {"domain": ["Buy & Hold", "13/34 Week Tactical"], "range": ["#0070C0", "#C00000"]},
   "legend": {"orient": "none", "legendX": 325, "legendY": 36, "direction": "horizontal", "title": null, "symbolType": "stroke", "symbolStrokeWidth": 5, "symbolSize": 2704,
     "labelFontSize": 26.5, "labelFont": "DejaVu Sans", "labelColor": "black", "labelOffset": 3, "columnPadding": 74, "labelLimit": 400, "padding": 0}}}},
{"data": {"name": "series"},
 "transform": [{"filter": "datum.series == '13/34 Week Tactical'"}],
 "mark": {"type": "line", "strokeWidth": 5, "strokeJoin": "round", "strokeCap": "round"},
 "encoding": {"color": {"field": "series", "type": "nominal",
   "scale": {"domain": ["Buy & Hold", "13/34 Week Tactical"], "range": ["#0070C0", "#C00000"]},
   "legend": {"orient": "none", "legendX": 325, "legendY": 36, "direction": "horizontal", "title": null, "symbolType": "stroke", "symbolStrokeWidth": 5, "symbolSize": 2704,
     "labelFontSize": 26.5, "labelFont": "DejaVu Sans", "labelColor": "black", "labelOffset": 3, "columnPadding": 74, "labelLimit": 400, "padding": 0}}}},
{"data": {"name": "ring"},
 "mark": {"type": "point", "shape": "M -0.7994 0 A 0.7994 1 0 1 1 0.7994 0 A 0.7994 1 0 1 1 -0.7994 0 Z", "size": 473344, "filled": false, "stroke": "black", "strokeWidth": 1.5, "opacity": 1}}
]
}
